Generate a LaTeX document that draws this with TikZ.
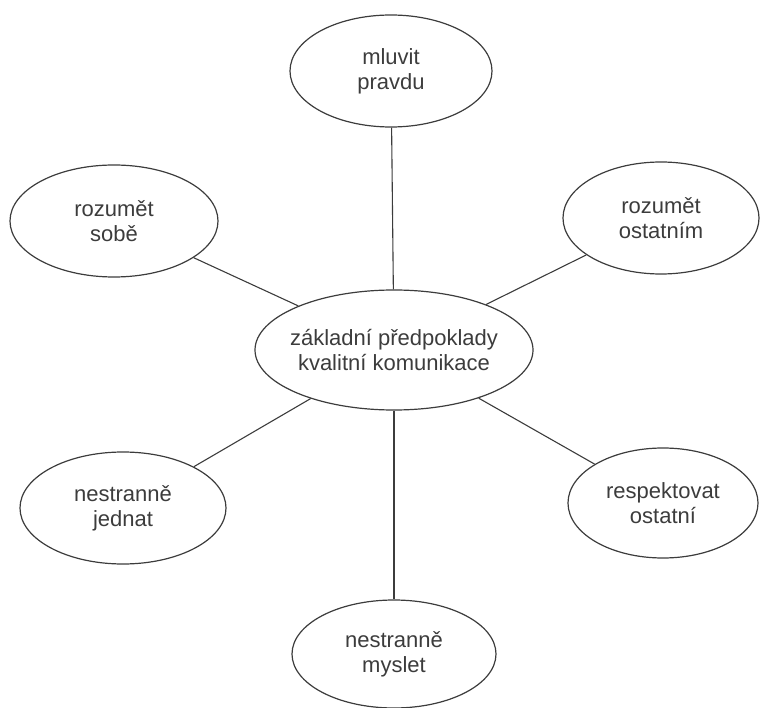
\documentclass[tikz,border=0pt]{standalone}
\usepackage{fontspec}
\setmainfont{Liberation Sans}
\usetikzlibrary{shapes.geometric}
\definecolor{ink}{HTML}{3C3C3C}

\begin{document}
\begin{tikzpicture}[x=1pt,y=-1pt,
  bubble/.style={draw=ink,line width=1.2pt,ellipse,inner sep=0pt},
  txt/.style={text=ink,align=center,font=\fontsize{22}{25}\selectfont},
  link/.style={draw=ink,line width=1.1pt}]
\useasboundingbox (0,0) rectangle (760,708);
%centre
\node[bubble,minimum width=278pt,minimum height=120pt,
  label={[txt]center:{základní předpoklady\\kvalitní komunikace}}] (zaklad) at (394,350) {};
%outer ring
\node[bubble,minimum width=202pt,minimum height=112pt,
  label={[txt]center:{mluvit\\pravdu}}] (mluvit) at (391,71) {};
\node[bubble,minimum width=208pt,minimum height=112pt,
  label={[txt]center:{rozumět\\sobě}}] (sobe) at (114,221) {};
\node[bubble,minimum width=196pt,minimum height=112pt,
  label={[txt]center:{rozumět\\ostatním}}] (ostatnim) at (661,218) {};
\node[bubble,minimum width=206pt,minimum height=112pt,
  label={[txt]center:{nestranně\\jednat}}] (jednat) at (123,508) {};
\node[bubble,minimum width=190pt,minimum height=110pt,
  label={[txt]center:{respektovat\\ostatní}}] (respekt) at (663,503) {};
\node[bubble,minimum width=204pt,minimum height=108pt,
  label={[txt]center:{nestranně\\myslet}}] (myslet) at (394,654) {};
%spokes
\draw[link] (zaklad) -- (mluvit);
\draw[link] (zaklad) -- (sobe);
\draw[link] (zaklad) -- (ostatnim);
\draw[link] (zaklad) -- (jednat);
\draw[link] (zaklad) -- (respekt);
\draw[link] (zaklad) -- (myslet);
\end{tikzpicture}
\end{document}
